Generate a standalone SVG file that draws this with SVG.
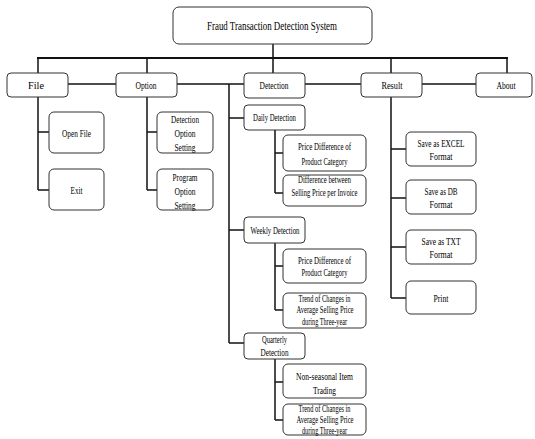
<svg xmlns="http://www.w3.org/2000/svg" width="535" height="439" viewBox="0 0 535 439">
<style>
.b{fill:#fff;stroke:#333;stroke-width:1}
.t{font-family:"Liberation Serif",serif;fill:#000;text-anchor:middle;dominant-baseline:central}
.h{font-size:12px}
.m{font-size:10.5px}
.s{font-size:9.5px}
.c line{stroke:#111;stroke-width:1.5}
.c .bus{stroke-width:2.2}
</style>
<rect width="535" height="439" fill="#fff"/>
<g class="c" id="connectors">
<line x1="273" y1="44" x2="273" y2="58"/>
<line class="bus" x1="37" y1="58" x2="508" y2="58"/>
<line x1="38" y1="58" x2="38" y2="73"/>
<line x1="147" y1="58" x2="147" y2="73"/>
<line x1="273" y1="58" x2="273" y2="73"/>
<line x1="391" y1="58" x2="391" y2="73"/>
<line x1="507" y1="58" x2="507" y2="73"/>
<line x1="68" y1="84" x2="476" y2="84"/>
<line x1="38" y1="97" x2="38" y2="190"/>
<line x1="38" y1="132" x2="49" y2="132"/>
<line x1="38" y1="190" x2="49" y2="190"/>
<line x1="147" y1="97" x2="147" y2="190"/>
<line x1="147" y1="132" x2="157" y2="132"/>
<line x1="147" y1="190" x2="157" y2="190"/>
<line x1="229" y1="84" x2="229" y2="343"/>
<line x1="229" y1="118" x2="244" y2="118"/>
<line x1="229" y1="230" x2="244" y2="230"/>
<line x1="229" y1="343" x2="244" y2="343"/>
<line x1="275" y1="130" x2="275" y2="193"/>
<line x1="275" y1="153" x2="283" y2="153"/>
<line x1="275" y1="193" x2="283" y2="193"/>
<line x1="275" y1="243" x2="275" y2="310"/>
<line x1="275" y1="266" x2="283" y2="266"/>
<line x1="275" y1="310" x2="283" y2="310"/>
<line x1="275" y1="359" x2="275" y2="420"/>
<line x1="275" y1="382" x2="283" y2="382"/>
<line x1="275" y1="420" x2="283" y2="420"/>
<line x1="391" y1="97" x2="391" y2="298"/>
<line x1="391" y1="149" x2="406" y2="149"/>
<line x1="391" y1="198" x2="406" y2="198"/>
<line x1="391" y1="247" x2="406" y2="247"/>
<line x1="391" y1="298" x2="406" y2="298"/>
</g>
<g id="root"><rect class="b" x="173" y="7" width="199" height="37" rx="6"/><text class="t h" x="272" y="26" textLength="130" lengthAdjust="spacingAndGlyphs">Fraud Transaction Detection System</text></g>
<g id="file"><rect class="b" x="7" y="73" width="61" height="24" rx="4"/><text class="t m" x="36" y="85" textLength="16" lengthAdjust="spacingAndGlyphs">File</text></g>
<g id="option"><rect class="b" x="116" y="73" width="61" height="24" rx="4"/><text class="t m" x="146" y="85" textLength="21" lengthAdjust="spacingAndGlyphs">Option</text></g>
<g id="detection"><rect class="b" x="244" y="73" width="61" height="25" rx="4"/><text class="t m" x="274" y="85" textLength="29" lengthAdjust="spacingAndGlyphs">Detection</text></g>
<g id="result"><rect class="b" x="361" y="73" width="61" height="24" rx="4"/><text class="t m" x="392" y="85" textLength="21" lengthAdjust="spacingAndGlyphs">Result</text></g>
<g id="about"><rect class="b" x="476" y="73" width="56" height="24" rx="4"/><text class="t m" x="506" y="85" textLength="19" lengthAdjust="spacingAndGlyphs">About</text></g>
<g id="open-file"><rect class="b" x="49" y="112" width="55" height="41" rx="5"/><text class="t m" x="76.5" y="133" textLength="29" lengthAdjust="spacingAndGlyphs">Open File</text></g>
<g id="exit"><rect class="b" x="49" y="169" width="55" height="41" rx="5"/><text class="t m" x="76.5" y="190" textLength="12" lengthAdjust="spacingAndGlyphs">Exit</text></g>
<g id="detection-option-setting"><rect class="b" x="157" y="112" width="56" height="41" rx="5"/><text class="t m" x="185" y="119" textLength="28" lengthAdjust="spacingAndGlyphs">Detection</text><text class="t m" x="185" y="133" textLength="21" lengthAdjust="spacingAndGlyphs">Option</text><text class="t m" x="185" y="147" textLength="21" lengthAdjust="spacingAndGlyphs">Setting</text></g>
<g id="program-option-setting"><rect class="b" x="157" y="169" width="56" height="41" rx="5"/><text class="t m" x="185" y="177" textLength="25" lengthAdjust="spacingAndGlyphs">Program</text><text class="t m" x="185" y="191" textLength="21" lengthAdjust="spacingAndGlyphs">Option</text><text class="t m" x="185" y="205" textLength="21" lengthAdjust="spacingAndGlyphs">Setting</text></g>
<g id="daily-detection"><rect class="b" x="244" y="105" width="61" height="25" rx="4"/><text class="t s" x="274.5" y="118" textLength="43" lengthAdjust="spacingAndGlyphs">Daily Detection</text></g>
<g id="daily-price-difference"><rect class="b" x="283" y="135" width="83" height="36" rx="5"/><text class="t s" x="324.5" y="147" textLength="53" lengthAdjust="spacingAndGlyphs">Price Difference of</text><text class="t s" x="324.5" y="162" textLength="46" lengthAdjust="spacingAndGlyphs">Product Category</text></g>
<g id="daily-difference-invoice"><rect class="b" x="283" y="175" width="83" height="31" rx="5"/><text class="t s" x="324.5" y="180" textLength="53" lengthAdjust="spacingAndGlyphs">Difference between</text><text class="t s" x="324.5" y="193" textLength="66" lengthAdjust="spacingAndGlyphs">Selling Price per Invoice</text></g>
<g id="weekly-detection"><rect class="b" x="244" y="217" width="61" height="26" rx="4"/><text class="t s" x="275" y="231" textLength="49" lengthAdjust="spacingAndGlyphs">Weekly Detection</text></g>
<g id="weekly-price-difference"><rect class="b" x="283" y="249" width="83" height="34" rx="5"/><text class="t s" x="324.5" y="261" textLength="53" lengthAdjust="spacingAndGlyphs">Price Difference of</text><text class="t s" x="324.5" y="273" textLength="46" lengthAdjust="spacingAndGlyphs">Product Category</text></g>
<g id="weekly-trend"><rect class="b" x="283" y="293" width="83" height="35" rx="5"/><text class="t s" x="324.5" y="299" textLength="52" lengthAdjust="spacingAndGlyphs">Trend of Changes in</text><text class="t s" x="325" y="310" textLength="57" lengthAdjust="spacingAndGlyphs">Average Selling  Price</text><text class="t s" x="324.5" y="322" textLength="45" lengthAdjust="spacingAndGlyphs">during  Three-year</text></g>
<g id="quarterly-detection"><rect class="b" x="244" y="333" width="61" height="26" rx="4"/><text class="t s" x="274.5" y="340" textLength="25" lengthAdjust="spacingAndGlyphs">Quarterly</text><text class="t s" x="274.5" y="353" textLength="28" lengthAdjust="spacingAndGlyphs">Detection</text></g>
<g id="non-seasonal"><rect class="b" x="283" y="364" width="83" height="34" rx="5"/><text class="t m" x="324.5" y="376" textLength="57" lengthAdjust="spacingAndGlyphs">Non-seasonal Item</text><text class="t m" x="324.5" y="390" textLength="23" lengthAdjust="spacingAndGlyphs">Trading</text></g>
<g id="quarterly-trend"><rect class="b" x="283" y="404" width="83" height="31" rx="5"/><text class="t s" x="324.5" y="409" textLength="52" lengthAdjust="spacingAndGlyphs">Trend of Changes in</text><text class="t s" x="325" y="420" textLength="57" lengthAdjust="spacingAndGlyphs">Average Selling  Price</text><text class="t s" x="324.5" y="431" textLength="45" lengthAdjust="spacingAndGlyphs">during  Three-year</text></g>
<g id="save-excel"><rect class="b" x="406" y="132" width="70" height="34" rx="5"/><text class="t m" x="441" y="143" textLength="47" lengthAdjust="spacingAndGlyphs">Save as EXCEL</text><text class="t m" x="441" y="156" textLength="23" lengthAdjust="spacingAndGlyphs">Format</text></g>
<g id="save-db"><rect class="b" x="406" y="180" width="70" height="34" rx="5"/><text class="t m" x="441" y="191" textLength="33" lengthAdjust="spacingAndGlyphs">Save as DB</text><text class="t m" x="441" y="204" textLength="23" lengthAdjust="spacingAndGlyphs">Format</text></g>
<g id="save-txt"><rect class="b" x="406" y="230" width="70" height="34" rx="5"/><text class="t m" x="441" y="241" textLength="39" lengthAdjust="spacingAndGlyphs">Save as TXT</text><text class="t m" x="441" y="254" textLength="23" lengthAdjust="spacingAndGlyphs">Format</text></g>
<g id="print"><rect class="b" x="406" y="281" width="70" height="33" rx="5"/><text class="t m" x="441" y="298" textLength="15" lengthAdjust="spacingAndGlyphs">Print</text></g>
</svg>
